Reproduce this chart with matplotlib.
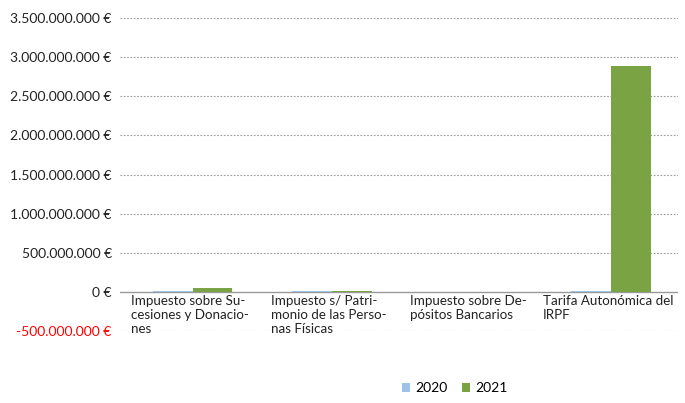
import matplotlib
matplotlib.use("Agg")
import matplotlib.pyplot as plt
import matplotlib.transforms as mtransforms
from matplotlib.ticker import FuncFormatter
import numpy as np

plt.rcParams['font.family'] = ['Lato', 'DejaVu Sans']

categories = [
    "Impuesto sobre Su-\ncesiones y Donacio-\nnes",
    "Impuesto s/ Patri-\nmonio de las Perso-\nnas Físicas",
    "Impuesto sobre De-\npósitos Bancarios",
    "Tarifa Autonómica del\nIRPF",
]
series_names = ["2020", "2021"]
values_2020 = [9_000_000, 8_000_000, 0, 8_000_000]
values_2021 = [50_000_000, 12_000_000, 0, 2_890_000_000]
colors = ["#9DC3E6", "#7AA444"]
yticks = [-500_000_000, 0, 500_000_000, 1_000_000_000, 1_500_000_000,
          2_000_000_000, 2_500_000_000, 3_000_000_000, 3_500_000_000]

fig = plt.figure(figsize=(6.85, 4.03), dpi=100)
ax = fig.add_axes([120/685, 1-331/403, (678-120)/685, (331-18)/403])

x = np.arange(len(categories))
w = 0.285
ax.bar(x - w/2 + 0.02, values_2020, w, color=colors[0], label=series_names[0], zorder=3)
ax.bar(x + w/2 + 0.02, values_2021, w, color=colors[1], label=series_names[1], zorder=3)

ax.set_xlim(-0.5, len(categories) - 0.5)
ax.set_ylim(yticks[0], yticks[-1])
ax.set_yticks(yticks)

def fmt(v, pos):
    s = f"{abs(int(v)):,}".replace(",", ".")
    return ("-" if v < 0 else "") + s + " €"
ax.yaxis.set_major_formatter(FuncFormatter(fmt))
for lbl, v in zip(ax.get_yticklabels(), yticks):
    lbl.set_color("red" if v < 0 else "#222222")
ax.tick_params(axis='y', length=0, labelsize=10, pad=6)
ax.set_xticks([])

for s in ax.spines.values():
    s.set_visible(False)
for v in yticks:
    if v == 0:
        ax.axhline(0, color="#999999", lw=1.0, zorder=2)
    else:
        ax.axhline(v, color="#9a9a9a", lw=0.8, ls=(0, (1.5, 1.5)), zorder=1)

trans = mtransforms.blended_transform_factory(ax.transData, ax.transData)
for i, c in enumerate(categories):
    ax.text(i, -45_000_000, c, ha='center', multialignment='left', va='top',
            fontsize=9.6, color="#222222", transform=trans, linespacing=1.2)

handles, labels = ax.get_legend_handles_labels()
fig.legend(handles, labels, loc='center', bbox_to_anchor=(455/685, 1-388/403),
           ncol=2, frameon=False, fontsize=10, handlelength=0.6, handleheight=0.6,
           columnspacing=1.0, handletextpad=0.4)

fig.savefig("out.png", dpi=100)
